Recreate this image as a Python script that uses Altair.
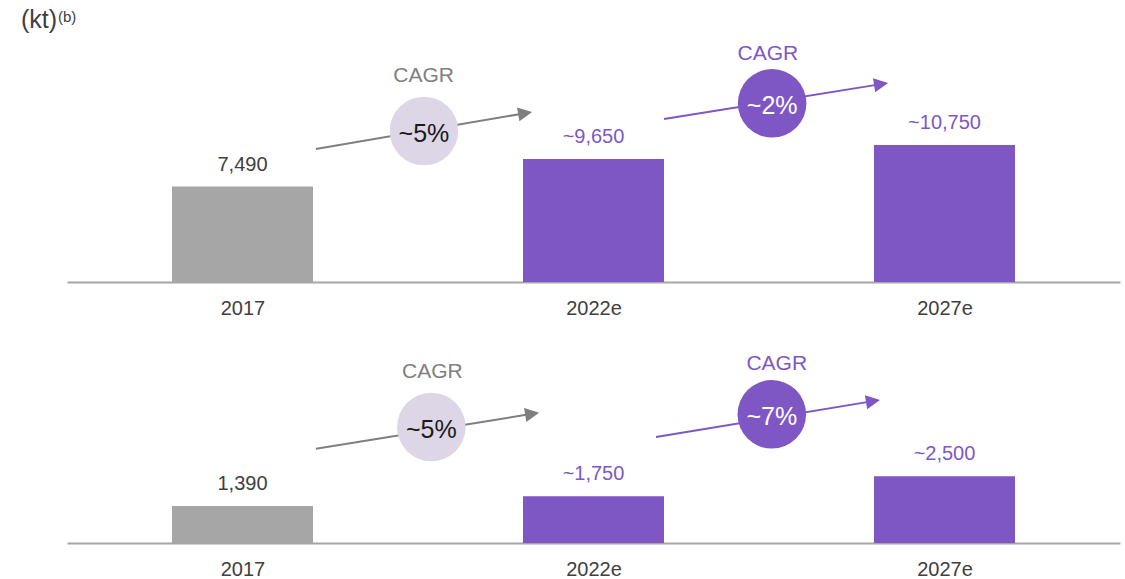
import json
import math
import altair as alt
import pandas as pd

FONT = "Liberation Sans"
GRAY_BAR = "#a6a6a6"
PURPLE = "#7e57c5"

years = ["2017", "2022e", "2027e"]
is_estimate = [False, True, True]
top_values = [7490, 9650, 10750]
bottom_values = [1390, 1750, 2500]

# CAGR annotations (x in category slots 0..3, y in each panel's kt units)
top_cagr = ["~5%", "~2%"]
top_cagr_estimate = [False, True]
top_arrow_x0 = [0.709, 1.701]
top_arrow_y0 = [10442, 12797]
top_arrow_x1 = [1.325, 2.339]
top_arrow_y1 = [13347, 15623]
top_circle_x = [1.017, 2.009]
top_circle_y = [11855, 14030]
top_label_x = [1.016, 1.997]
top_label_y = [16173, 17900]

bottom_cagr = ["~5%", "~7%"]
bottom_cagr_estimate = [False, True]
bottom_arrow_x0 = [0.709, 1.678]
bottom_arrow_y0 = [3536, 3975]
bottom_arrow_x1 = [1.345, 2.316]
bottom_arrow_y1 = [4886, 5363]
bottom_circle_x = [1.038, 2.008]
bottom_circle_y = [4350, 4826]
bottom_label_x = [1.041, 2.022]
bottom_label_y = [6413, 6720]

WIDTH = 1053
N = len(years)
PX_PER_X = WIDTH / N

label_expr = json.dumps(years) + "[floor(datum.value)]"


def x_enc(field):
    return alt.X(
        field,
        type="quantitative",
        scale=alt.Scale(domain=[0, N], nice=False, zero=False),
        axis=alt.Axis(
            values=[i + 0.5 for i in range(N)],
            labelExpr=label_expr,
            ticks=False,
            grid=False,
            domainColor="#a6a6a6",
            domainWidth=2,
            labelFont=FONT,
            labelFontSize=20,
            labelColor="#404040",
            labelPadding=16,
            title=None,
        ),
    )


def panel(values, y_max, height, cagr, cagr_est, ax0, ay0, ax1, ay1, cx, cy, lx, ly, unit=False):
    upp = y_max / height
    yscale = alt.Scale(domain=[0, y_max], nice=False, zero=True)

    def y_enc(field):
        return alt.Y(field, type="quantitative", scale=yscale, axis=None)

    bars = pd.DataFrame({
        "year": years,
        "value": values,
        "c": [i + 0.5 for i in range(N)],
        "est": is_estimate,
    })
    half = 141 / 2 / PX_PER_X
    bars["xa"] = bars["c"] - half
    bars["xb"] = bars["c"] + half
    bars["fill"] = [PURPLE if e else GRAY_BAR for e in bars["est"]]
    bars["tcolor"] = [PURPLE if e else "#404040" for e in bars["est"]]
    bars["label"] = [("~" if e else "") + f"{v:,}" for v, e in zip(values, is_estimate)]
    bars["zero"] = 0

    bar_layer = alt.Chart(bars).mark_bar().encode(
        x=x_enc("xa"), x2="xb",
        y=y_enc("value"), y2="zero",
        color=alt.Color("fill:N", scale=None),
    )
    val_layer = alt.Chart(bars).mark_text(
        font=FONT, fontSize=20, baseline="middle", dy=-22
    ).encode(
        x=x_enc("c"), y=y_enc("value"),
        text="label:N",
        color=alt.Color("tcolor:N", scale=None),
    )

    rows = []
    for i in range(len(cagr)):
        dxp = (ax1[i] - ax0[i]) * PX_PER_X
        dyp = (ay1[i] - ay0[i]) / upp
        L = math.hypot(dxp, dyp)
        ux, uy = dxp / L, dyp / L
        hx = ax1[i] - 7 * ux / PX_PER_X
        hy = ay1[i] - 7 * uy * upp
        ang = (-math.degrees(math.atan2(dyp, dxp))) % 360
        e = cagr_est[i]
        rows.append({
            "x0": ax0[i], "y0": ay0[i], "hx": hx, "hy": hy, "ang": ang,
            "cx": cx[i], "cy": cy[i], "lx": lx[i], "ly": ly[i],
            "cagr": cagr[i], "word": "CAGR",
            "line": PURPLE if e else "#7f7f7f",
            "circ": PURPLE if e else "#dcd6e7",
            "inner": "#ffffff" if e else "#1a1a1a",
            "wcol": PURPLE if e else "#808080",
        })
    ann = pd.DataFrame(rows)

    rule_layer = alt.Chart(ann).mark_rule(strokeWidth=2).encode(
        x=x_enc("x0"), y=y_enc("y0"), x2="hx", y2="hy",
        color=alt.Color("line:N", scale=None),
    )
    head_layer = alt.Chart(ann).mark_point(
        shape="M-1,-1L1,0L-1,1Z", size=200, filled=True, opacity=1
    ).encode(
        x=x_enc("hx"), y=y_enc("hy"),
        angle=alt.Angle("ang:Q", scale=None),
        color=alt.Color("line:N", scale=None),
    )
    circ_layer = alt.Chart(ann).mark_point(
        shape="circle", size=4700, filled=True, opacity=1
    ).encode(
        x=x_enc("cx"), y=y_enc("cy"),
        color=alt.Color("circ:N", scale=None),
    )
    pct_layer = alt.Chart(ann).mark_text(
        font=FONT, fontSize=25, baseline="middle", dy=3
    ).encode(
        x=x_enc("cx"), y=y_enc("cy"), text="cagr:N",
        color=alt.Color("inner:N", scale=None),
    )
    word_layer = alt.Chart(ann).mark_text(
        font=FONT, fontSize=21, baseline="middle"
    ).encode(
        x=x_enc("lx"), y=y_enc("ly"), text="word:N",
        color=alt.Color("wcol:N", scale=None),
    )

    layers = [bar_layer, val_layer, rule_layer, head_layer, circ_layer, pct_layer, word_layer]
    if unit:
        u1 = alt.Chart(pd.DataFrame({"t": ["(kt)"]})).mark_text(
            font=FONT, fontSize=25, baseline="middle", align="left", color="#404040"
        ).encode(x=alt.value(-46), y=alt.value(-20), text="t:N")
        u2 = alt.Chart(pd.DataFrame({"t": ["(b)"]})).mark_text(
            font=FONT, fontSize=15, baseline="middle", align="left", color="#404040"
        ).encode(x=alt.value(-9), y=alt.value(-23), text="t:N")
        layers += [u1, u2]
    return alt.layer(*layers).properties(width=WIDTH, height=height)


top = panel(top_values, 19000, 242, top_cagr, top_cagr_estimate,
            top_arrow_x0, top_arrow_y0, top_arrow_x1, top_arrow_y1,
            top_circle_x, top_circle_y, top_label_x, top_label_y, unit=True)
bottom = panel(bottom_values, 7200, 192, bottom_cagr, bottom_cagr_estimate,
               bottom_arrow_x0, bottom_arrow_y0, bottom_arrow_x1, bottom_arrow_y1,
               bottom_circle_x, bottom_circle_y, bottom_label_x, bottom_label_y)

chart = alt.vconcat(top, bottom, spacing=33).properties(
    padding={"left": 21, "top": 8, "right": 5, "bottom": 0},
    background="white",
).configure_view(stroke=None)

chart.save("out.html", embed_options={"renderer": "svg", "actions": False})
